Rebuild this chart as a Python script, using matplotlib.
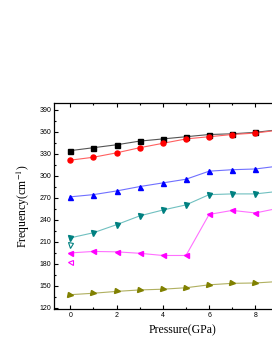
import numpy as np
import matplotlib
matplotlib.use("Agg")
import matplotlib.pyplot as plt
from matplotlib.ticker import MultipleLocator, FixedLocator

# pressure points (GPa)
pressure = [0, 1, 2, 3, 4, 5, 6, 7, 8, 9]

# mode frequencies (cm^-1)
mode_sq = [334, 338, 342, 347, 350, 353, 356, 357, 359, 362.5]
mode_ci = [321, 325, 331, 338, 344, 350, 353, 356, 358, 362]
mode_up = [271, 274, 279, 285, 290, 295, 306, 308, 309, 313]
mode_dn = [215, 222, 233, 245, 253, 260, 274, 275, 275, 278.5]
mode_lf = [194.5, 196.5, 196, 194, 191, 191, 247, 252.5, 249, 255.5]
mode_rt = [137.5, 139.5, 142, 144, 145, 147, 151, 153, 153.5, 155.5]

# isolated open symbols at 0 GPa
open_dn = 205.5
open_lf = 182

plt.rcParams['font.family'] = ['Liberation Serif', 'DejaVu Serif']
plt.rcParams['mathtext.fontset'] = 'stix'

fig = plt.figure(figsize=(2.72, 3.52), dpi=100)
ax = fig.add_axes([54/272, 43/352, 257/272, 206/352])

series = [
    (mode_sq, 's', 'black', '#555555'),
    (mode_ci, 'o', '#ff0000', '#ff6060'),
    (mode_up, '^', '#0000ff', '#7070ff'),
    (mode_dn, 'v', '#008080', '#70c0c0'),
    (mode_lf, '<', '#ff00ff', '#ff70ff'),
    (mode_rt, '>', '#808000', '#b0b060'),
]
for vals, mk, mc, lc in series:
    ax.plot(pressure, vals, color=lc, lw=0.8, zorder=2)
    ax.plot(pressure, vals, mk, color=mc, ms=3.6, mec=mc, lw=0, zorder=3)

ax.plot([0], [open_dn], 'v', mfc='white', mec='#008080', ms=3.6, mew=0.8)
ax.plot([0], [open_lf], '<', mfc='white', mec='#ff00ff', ms=3.6, mew=0.8)

ax.set_xlim(-0.7, 10.4)
ax.set_ylim(118, 399)
ax.xaxis.set_major_locator(FixedLocator([0, 2, 4, 6, 8]))
ax.xaxis.set_minor_locator(FixedLocator([1, 3, 5, 7, 9]))
ax.yaxis.set_major_locator(MultipleLocator(30))
ax.yaxis.set_minor_locator(MultipleLocator(15))
ax.tick_params(which='both', direction='in', top=True, width=0.8)
ax.tick_params(which='major', length=3)
ax.tick_params(which='minor', length=1.6)
for lab in ax.get_xticklabels() + ax.get_yticklabels():
    lab.set_family(['Liberation Sans', 'DejaVu Sans'])
    lab.set_fontsize(5)
ax.tick_params(axis='both', pad=2)
for s in ax.spines.values():
    s.set_linewidth(0.9)

ax.set_xlabel('Pressure(GPa)', fontsize=8.5, labelpad=4)
ax.set_ylabel('Frequency(cm$^{-1}$)', fontsize=8.5)
ax.yaxis.set_label_coords(-22/257, 0.5)

fig.savefig('out.png', dpi=100)
